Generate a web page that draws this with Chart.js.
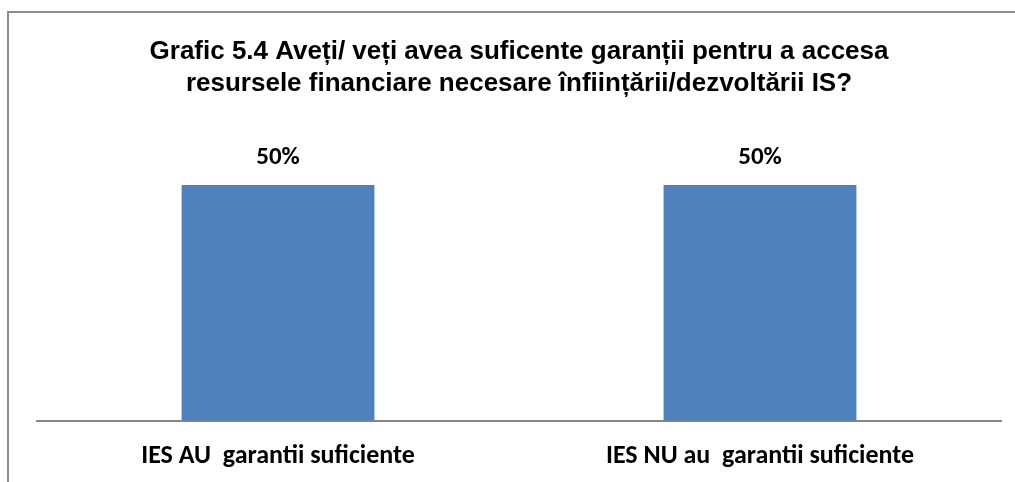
<!DOCTYPE html>
<html>
<head>
<meta charset="utf-8">
<script src="https://cdn.jsdelivr.net/npm/chart.js@4"></script>
<style>
  html, body { margin: 0; padding: 0; background: #fff; }
  #wrap { width: 1015px; height: 482px; position: relative; }
</style>
</head>
<body>
<div id="wrap"><canvas id="garantiiChart"></canvas></div>
<script>
const categories = ['IES AU  garantii suficiente', 'IES NU au  garantii suficiente'];
const shares = [0.5, 0.5];
const titleLines = [
  'Grafic 5.4 Aveți/ veți avea suficente garanții pentru a accesa',
  'resursele financiare necesare înființării/dezvoltării IS?'
];

// frame round the chart, like the Excel chart border
const framePlugin = {
  id: 'frame',
  beforeDraw(chart) {
    const c = chart.ctx;
    c.save();
    c.strokeStyle = '#8c8c8c';
    c.lineWidth = 2;
    c.strokeRect(8, 12, chart.width + 20, chart.height + 20);
    c.restore();
  }
};

// percent labels over the bars
const valueLabels = {
  id: 'valueLabels',
  afterDatasetsDraw(chart) {
    const c = chart.ctx;
    const meta = chart.getDatasetMeta(0);
    c.save();
    c.font = 'bold 25px Carlito, Lato, "Liberation Sans", sans-serif';
    c.fillStyle = '#000';
    c.textAlign = 'center';
    c.textBaseline = 'middle';
    meta.data.forEach((bar, i) => {
      const v = chart.data.datasets[0].data[i];
      c.fillText(Math.round(v * 100) + '%', bar.x, bar.y - 27);
    });
    c.restore();
  }
};

const ctx = document.getElementById('garantiiChart').getContext('2d');
const garantiiChart = new Chart(ctx, {
  type: 'bar',
  data: {
    labels: categories,
    datasets: [
      {
        data: shares,
        backgroundColor: '#4f81bd',
        borderWidth: 0,
        categoryPercentage: 1,
        barPercentage: 0.4
      }
    ]
  },
  options: {
    responsive: true,
    maintainAspectRatio: false,
    animation: false,
    layout: {
      padding: { left: 37, right: 14, top: 12, bottom: -10 }
    },
    plugins: {
      legend: { display: false },
      tooltip: { enabled: false },
      title: {
        display: true,
        text: titleLines,
        color: '#000',
        font: { family: '"Liberation Sans", Arial, sans-serif', size: 26, weight: 'bold', lineHeight: 1.23 },
        padding: { top: 24, bottom: 38 }
      }
    },
    scales: {
      x: {
        grid: { display: false, drawTicks: false },
        border: { display: true, color: '#868686', width: 2 },
        ticks: {
          color: '#000',
          padding: 20,
          font: { family: 'Carlito, Lato, "Liberation Sans", sans-serif', size: 26, weight: 'bold', lineHeight: 1.2 }
        }
      },
      y: {
        display: false,
        min: 0,
        max: 0.6
      }
    }
  },
  plugins: [framePlugin, valueLabels]
});
</script>
</body>
</html>
